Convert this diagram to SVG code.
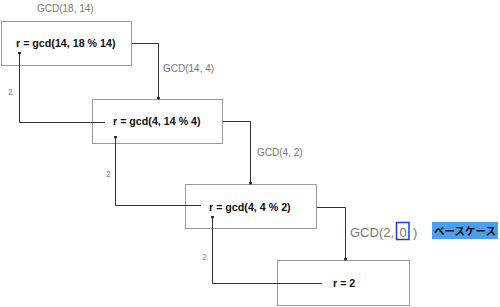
<svg xmlns="http://www.w3.org/2000/svg" width="500" height="307" viewBox="0 0 500 307">
<defs>
<style>
.box{fill:#fff;stroke:#999;stroke-width:1}
.t{font-family:"Liberation Sans",Arial,sans-serif;font-size:10.7px;font-weight:bold;fill:#111}
.lbl{font-family:"Liberation Sans",Arial,sans-serif;font-size:10px;fill:#777}
.n{font-family:"Liberation Sans",Arial,sans-serif;font-size:8.5px;fill:#888}
.c{fill:none;stroke:#333;stroke-width:1}
</style>
<marker id="a" viewBox="0 0 6 6" refX="3" refY="3" markerWidth="3" markerHeight="3" orient="auto"><circle cx="3" cy="3" r="3" fill="#222"/></marker>
</defs>
<rect width="500" height="307" fill="#fff"/>
<g id="n1"><rect class="box" x="1.5" y="21.5" width="130" height="44"/><text class="t" x="16" y="47">r = gcd(14, 18 % 14)</text></g>
<g id="n2"><rect class="box" x="92.5" y="99.5" width="130" height="44"/><text class="t" x="113" y="125">r = gcd(4, 14 % 4)</text></g>
<g id="n3"><rect class="box" x="185.5" y="184.5" width="131" height="44"/><text class="t" x="209" y="211">r = gcd(4, 4 % 2)</text></g>
<g id="n4"><rect class="box" x="277.5" y="260.5" width="132" height="45"/><text class="t" x="333" y="287">r = 2</text></g>
<g id="connectors">
<path class="c" d="M132 43.5H158.5V98" marker-end="url(#a)"/>
<path class="c" d="M223 121.5H250.5V183" marker-end="url(#a)"/>
<path class="c" d="M317 207.5H345.5V259" marker-end="url(#a)"/>
<path class="c" d="M105 122.5H19.5V53" marker-end="url(#a)"/>
<path class="c" d="M201 205.5H115.5V137" marker-end="url(#a)"/>
<path class="c" d="M322 283.5H212.5V217" marker-end="url(#a)"/>
</g>
<g id="labels">
<text class="lbl" x="37" y="12">GCD(18, 14)</text>
<text class="lbl" x="163" y="72">GCD(14, 4)</text>
<text class="lbl" x="257" y="156">GCD(4, 2)</text>
<text class="n" x="8" y="95">2</text>
<text class="n" x="106" y="177">2</text>
<text class="n" x="202" y="260">2</text>
<text font-family="'Liberation Sans',Arial,sans-serif" font-size="13" fill="#777" x="350" y="237">GCD(2,<tspan x="399.5">0</tspan><tspan x="413">)</tspan></text>
<rect x="396.5" y="222.5" width="12.5" height="17" fill="none" stroke="#1a3ec8" stroke-width="1.5"/>
<rect x="432" y="222" width="66" height="17" fill="#4a9ff0"/>
<text font-family="'Noto Sans CJK JP','Noto Sans',sans-serif" font-size="10.5" font-weight="bold" fill="#111" x="434" y="235">ベースケース</text>
</g>
</svg>
